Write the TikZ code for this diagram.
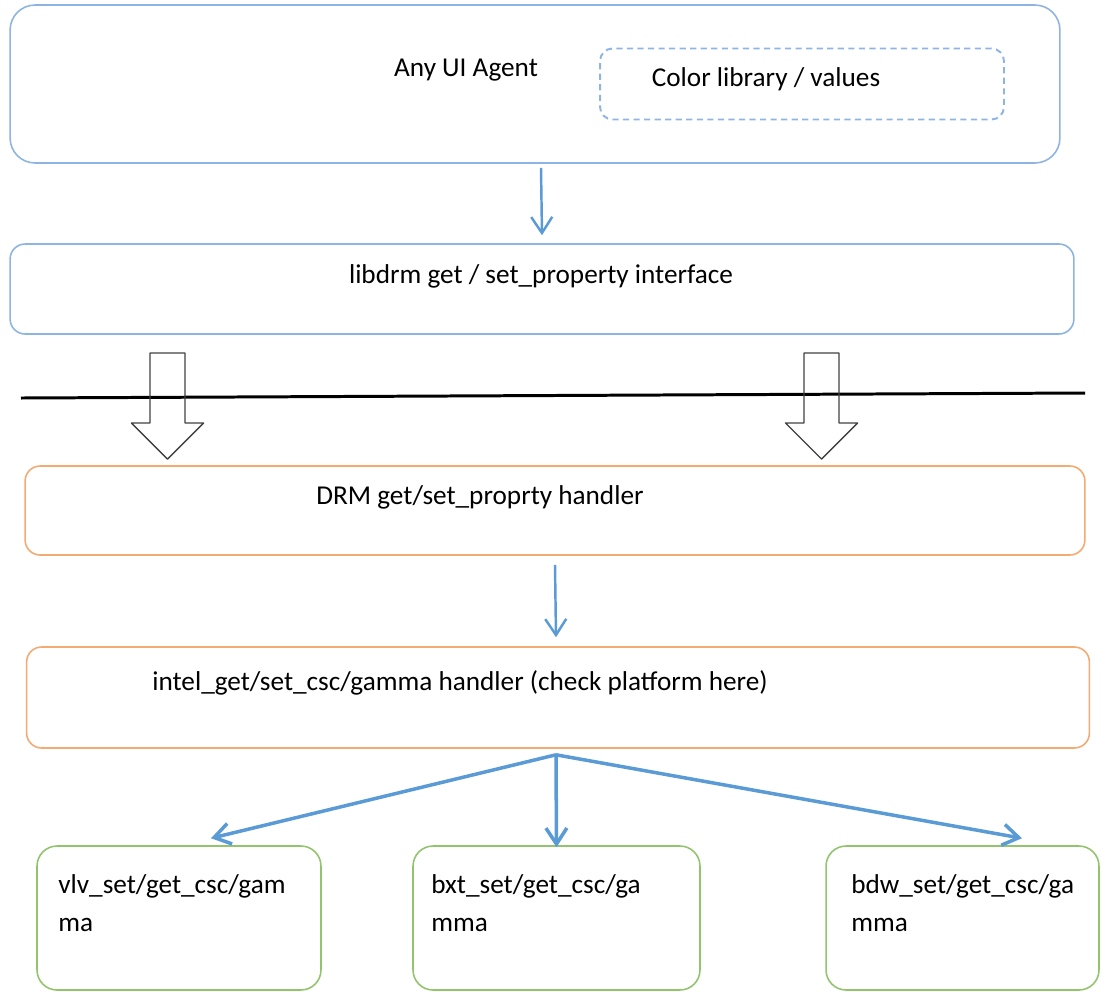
\documentclass[tikz,border=0pt]{standalone}
\usepackage{fontspec}
\setmainfont{Carlito}
\usetikzlibrary{arrows.meta, positioning, calc}

\definecolor{boxblue}{RGB}{141,180,226}
\definecolor{arrowblue}{RGB}{91,155,213}
\definecolor{boxorange}{RGB}{244,170,115}
\definecolor{boxgreen}{RGB}{146,196,110}

\begin{document}
\begin{tikzpicture}[x=0.02cm, y=-0.02cm, line join=round,
    bluebox/.style={draw=boxblue, line width=0.9pt, rounded corners=0.5cm},
    dashbox/.style={draw=boxblue, line width=1.1pt, dash pattern=on 3.5pt off 2.5pt, rounded corners=0.25cm},
    orangebox/.style={draw=boxorange, line width=0.9pt, rounded corners=0.3cm},
    greenbox/.style={draw=boxgreen, line width=0.9pt, rounded corners=0.4cm, minimum height=2.88cm},
    txt/.style={inner sep=0pt, font=\fontsize{15.5}{18}\selectfont},
    gtxt/.style={inner sep=0pt, align=left, anchor=north west, font=\fontsize{15.5}{22}\selectfont},
    bluearrow/.style={draw=arrowblue, line width=1.4pt, -{Straight Barb[length=0.32cm, width=0.42cm]}},
    fanarrow/.style={draw=arrowblue, line width=2pt, -{Straight Barb[length=0.32cm, width=0.42cm]}},
    blockarrow/.style={draw=black!75, line width=0.8pt},
    sepline/.style={draw=black, line width=1.7pt}]
    \useasboundingbox (0,0) rectangle (1101,991);

    % 用户层
    \node[bluebox, minimum width=21cm, minimum height=3.16cm] (agent) at (535,84) {};
    \node[dashbox, minimum width=8.08cm, minimum height=1.42cm] (colorlib) at (802,84) {};
    \node[txt] (agenttxt) at (466,70) {Any UI Agent};
    \node[txt] (colortxt) at (766,79) {Color library / values};

    \node[bluebox, rounded corners=0.3cm, minimum width=21.28cm, minimum height=1.8cm] (libdrm) at (542,289) {};
    \node[txt] (libdrmtxt) at (541,276) {libdrm get / set\_property interface};

    \draw[bluearrow] ([xshift=0.12cm, yshift=-0.08cm]agent.south) -- ([yshift=0.16cm]libdrm.north);

    % 用户态 / 内核态分界
    \coordinate (L) at (21,398);
    \coordinate (R) at (1085,393);
    \draw[sepline] (L) -- (R);

    \foreach \cx in {167.5, 821.5} {
        \draw[blockarrow] (\cx-17.5,353) -- (\cx+17.5,353) -- (\cx+17.5,423) -- (\cx+36,423)
            -- (\cx,459) -- (\cx-36,423) -- (\cx-17.5,423) -- cycle;
    }

    % 内核层
    \node[orangebox, minimum width=21.2cm, minimum height=1.78cm] (drm) at (555,510.5) {};
    \node[txt] (drmtxt) at (480,497) {DRM get/set\_proprty handler};

    \node[orangebox, minimum width=21.26cm, minimum height=2.02cm] (intel) at (558,697.5) {};
    \node[txt] (inteltxt) at (460,683) {intel\_get/set\_csc/gamma handler (check platform here)};

    \draw[bluearrow] ([yshift=-0.18cm]drm.south) -- ([xshift=-0.04cm, yshift=0.18cm]intel.north);

    % 平台
    \node[greenbox, minimum width=5.68cm] (vlv) at (179,918) {};
    \node[greenbox, minimum width=5.74cm] (bxt) at (556.5,918) {};
    \node[greenbox, minimum width=5.46cm] (bdw) at (962.5,918) {};
    \node[gtxt] (vlvtxt) at (58,874) {vlv\_set/get\_csc/gam\\ma};
    \node[gtxt] (bxttxt) at (431,874) {bxt\_set/get\_csc/ga\\mma};
    \node[gtxt] (bdwtxt) at (851,874) {bdw\_set/get\_csc/ga\\mma};

    \coordinate (fan) at ([xshift=-0.04cm, yshift=-0.12cm]intel.south);
    \draw[fanarrow] (fan) -- ([xshift=0.64cm, yshift=0.14cm]vlv.north);
    \draw[fanarrow] (fan) -- ([yshift=-0.04cm]bxt.north);
    \draw[fanarrow] (fan) -- ([xshift=1.19cm, yshift=0.14cm]bdw.north);
\end{tikzpicture}
\end{document}
